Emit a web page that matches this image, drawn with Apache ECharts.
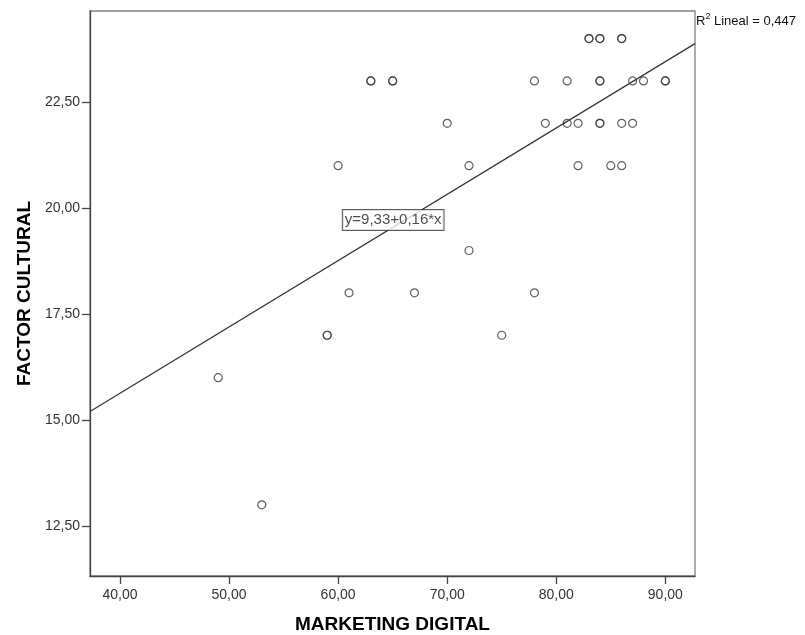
<!DOCTYPE html>
<html>
<head>
<meta charset="utf-8">
<script src="https://cdn.jsdelivr.net/npm/echarts@6/dist/echarts.min.js"></script>
<style>html,body{margin:0;padding:0;background:#fff}#c{width:805px;height:635px}</style>
</head>
<body>
<div id="c"></div>
<script>
// Observed data (MARKETING DIGITAL, FACTOR CULTURAL); repeated pairs appear bold in the reference
const marketing = [49, 53, 59, 59, 60, 61, 63, 63, 65, 65, 67, 70, 72, 72, 75, 78, 78, 79, 81, 81, 82, 82, 83, 83, 84, 84, 84, 84, 84, 84, 85, 86, 86, 86, 86, 87, 87, 88, 90, 90];
const cultural  = [16, 13, 17, 17, 21, 18, 23, 23, 23, 23, 18, 22, 21, 19, 17, 23, 18, 22, 23, 22, 22, 21, 24, 24, 24, 24, 23, 23, 22, 22, 21, 24, 24, 22, 21, 23, 22, 23, 23, 23];

// Fit line end points (y = 9,33 + 0,16*x)
const fitX = [37.25, 92.72];
const fitY = [15.2, 23.88];

// Axis tick labels
const xTicks = [40, 50, 60, 70, 80, 90];
const yTicks = [12.5, 15, 17.5, 20, 22.5];

// Equation label anchor
const eqPos = [65.05, 19.72];
const eqText = 'y=9,33+0,16*x';

const fmt = v => Number(v).toFixed(2).replace('.', ',');
const font = '"Liberation Sans", Arial, sans-serif';

const chart = echarts.init(document.getElementById('c'), null, {renderer: 'canvas'});
chart.setOption({
  animation: false,
  backgroundColor: '#fff',
  grid: {left: 90, right: 110, top: 11, bottom: 59, containLabel: false, outerBoundsMode: 'none',
         show: true, borderColor: '#808080', borderWidth: 1.3, backgroundColor: 'transparent'},
  xAxis: {
    type: 'value', min: 37.25, max: 92.72,
    name: 'MARKETING DIGITAL', nameLocation: 'middle', nameGap: 39,
    nameTextStyle: {fontFamily: font, fontSize: 19, fontWeight: 'bold', color: '#000'},
    axisLine: {show: true, lineStyle: {color: '#444', width: 1.3}},
    axisTick: {show: true, length: 8, customValues: xTicks, lineStyle: {color: '#444', width: 1.3}},
    axisLabel: {customValues: xTicks, formatter: fmt, margin: 12, fontFamily: font, fontSize: 14, color: '#333'},
    splitLine: {show: false}
  },
  yAxis: {
    type: 'value', min: 11.32, max: 24.65,
    name: 'FACTOR CULTURAL', nameLocation: 'middle', nameGap: 55, nameRotate: 90,
    nameTextStyle: {fontFamily: font, fontSize: 19, fontWeight: 'bold', color: '#000'},
    axisLine: {show: true, lineStyle: {color: '#444', width: 1.3}},
    axisTick: {show: true, length: 8, customValues: yTicks, lineStyle: {color: '#444', width: 1.3}},
    axisLabel: {customValues: yTicks, formatter: fmt, margin: 10, fontFamily: font, fontSize: 14, color: '#333'},
    splitLine: {show: false}
  },
  series: [
    {
      type: 'line',
      data: fitX.map((x, i) => [x, fitY[i]]),
      showSymbol: false, symbol: 'none',
      lineStyle: {color: '#333', width: 1.2},
      z: 2
    },
    {
      type: 'scatter',
      data: marketing.map((x, i) => [x, cultural[i]]),
      symbol: 'circle', symbolSize: 8,
      itemStyle: {color: 'rgba(255,255,255,0)', borderColor: '#3a3a3a', borderWidth: 1.2},
      z: 3
    },
    {
      type: 'scatter',
      data: [eqPos],
      symbolSize: 0,
      silent: true,
      z: 5,
      label: {
        show: true, position: 'inside', formatter: eqText,
        fontFamily: font, fontSize: 15, color: '#222',
        backgroundColor: '#fff', borderColor: '#333', borderWidth: 1,
        padding: [3, 2, 2, 2]
      }
    }
  ],
  graphic: [
    {type: 'text', left: 696, top: 12, style: {
      text: '{r|R}{s|2}{r| Lineal = 0,447}',
      rich: {
        r: {fontFamily: font, fontSize: 13, fill: '#111', verticalAlign: 'bottom', lineHeight: 16},
        s: {fontFamily: font, fontSize: 9, fill: '#111', verticalAlign: 'top', lineHeight: 16, padding: [0, 0, 5, 0]}
      }
    }}
  ]
});
</script>
</body>
</html>
